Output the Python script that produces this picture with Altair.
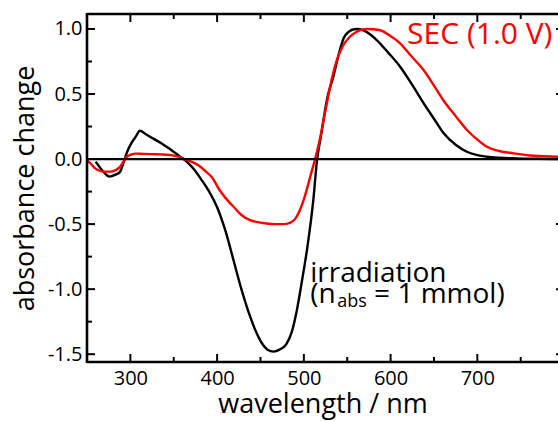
import altair as alt
import pandas as pd

# ---- data ----
irr_wl = [260, 268, 276, 283, 288, 292, 296, 301, 306, 311, 318, 327, 336, 346, 357, 365,
          374, 381, 390, 400, 410, 419, 428, 438, 445, 452, 458, 465, 472, 480, 486, 492,
          498, 504, 511, 515, 520, 527, 534, 540, 546, 552, 558, 563, 570, 577, 584, 597,
          611, 625, 638, 650, 661, 675, 688, 700, 711, 725, 745, 770, 793]
irr_abs = [-0.02, -0.09, -0.135, -0.12, -0.10, -0.03, 0.05, 0.12, 0.17, 0.218, 0.19, 0.155,
           0.12, 0.075, 0.02, -0.02, -0.085, -0.15, -0.24, -0.37, -0.56, -0.78, -1.0, -1.21,
           -1.33, -1.42, -1.465, -1.48, -1.465, -1.42, -1.33, -1.16, -0.93, -0.68, -0.31,
           -0.02, 0.19, 0.47, 0.633, 0.80, 0.93, 0.98, 0.998, 1.0, 0.985, 0.955, 0.915, 0.82,
           0.71, 0.57, 0.43, 0.31, 0.20, 0.11, 0.056, 0.03, 0.018, 0.01, 0.005, 0.002, 0.0]

sec_wl = [250, 255, 259, 265, 271, 277, 283, 288, 292, 296, 301, 306, 315, 325, 335, 345,
          355, 362, 370, 378, 386, 394, 403, 411, 419, 428, 438, 447, 457, 467, 476, 484,
          490, 495, 500, 504, 508, 513, 519, 526, 532, 538, 545, 553, 560, 566, 573, 580,
          588, 599, 611, 624, 638, 650, 661, 675, 688, 700, 711, 725, 742, 765, 793]
sec_abs = [-0.01, -0.04, -0.07, -0.09, -0.097, -0.097, -0.085, -0.06, -0.02, 0.018, 0.035,
           0.042, 0.04, 0.038, 0.036, 0.032, 0.018, 0.0, -0.02, -0.046, -0.09, -0.14, -0.24,
           -0.31, -0.367, -0.43, -0.47, -0.485, -0.495, -0.50, -0.50, -0.49, -0.46, -0.40,
           -0.31, -0.22, -0.12, 0.0, 0.17, 0.41, 0.61, 0.76, 0.87, 0.94, 0.975, 0.993, 1.0,
           0.998, 0.99, 0.95, 0.89, 0.79, 0.685, 0.565, 0.45, 0.33, 0.223, 0.15, 0.095,
           0.062, 0.044, 0.025, 0.018]

series_names = ["irradiation", "SEC"]
series_colors = ["#000000", "#ff0000"]

x_major = [300, 400, 500, 600, 700]
x_minor = [350, 450, 550, 650, 750]
y_major = [-1.5, -1.0, -0.5, 0.0, 0.5, 1.0]
y_minor = [-1.25, -0.75, -0.25, 0.25, 0.75]

X_DOMAIN = [250, 793]
Y_DOMAIN = [-1.56, 1.115]

W, H = 471, 348
FONT = "Open Sans"

df = pd.concat([
    pd.DataFrame({"wl": irr_wl, "abs": irr_abs, "series": series_names[0], "order": 1}),
    pd.DataFrame({"wl": sec_wl, "abs": sec_abs, "series": series_names[1], "order": 0}),
])

xs = alt.Scale(domain=X_DOMAIN, nice=False, zero=False)
ys = alt.Scale(domain=Y_DOMAIN, nice=False, zero=False)

lines = alt.Chart(df).mark_line(strokeWidth=2.4, clip=True, interpolate="monotone").encode(
    x=alt.X("wl:Q", scale=xs, axis=alt.Axis(
        values=x_major, ticks=False, domain=False, grid=False, labelFont=FONT,
        labelFontSize=20, labelPadding=6, labelColor="black",
        title="wavelength / nm", titleFont=FONT, titleFontSize=27,
        titleFontWeight="normal", titleColor="black", titlePadding=3)),
    y=alt.Y("abs:Q", scale=ys, axis=alt.Axis(
        values=y_major, ticks=False, domain=False, grid=False, labelFont=FONT,
        labelFontSize=20, labelPadding=5, labelColor="black",
        labelExpr="replace(format(datum.value, '.1f'), '\u2212', '-')",
        title="absorbance change", titleFont=FONT, titleFontSize=27,
        titleFontWeight="normal", titleColor="black", titlePadding=8)),
    color=alt.Color("series:N", scale=alt.Scale(domain=series_names, range=series_colors),
                    legend=None),
    order=alt.Order("order:Q"),
    detail="series:N",
)

zero = alt.Chart(pd.DataFrame({"y": [0.0]})).mark_rule(color="black", strokeWidth=2.2).encode(
    y=alt.Y("y:Q", scale=ys))

frame_df = pd.DataFrame({"d": [0]})
left_line = alt.Chart(frame_df).mark_rule(color="black", strokeWidth=2.6).encode(
    x=alt.value(0), y=alt.value(-1), y2=alt.value(H + 1))
top_line = alt.Chart(frame_df).mark_rule(color="black", strokeWidth=2.6).encode(
    x=alt.value(0), x2=alt.value(W), y=alt.value(0))
bottom_line = alt.Chart(frame_df).mark_rule(color="black", strokeWidth=2.6).encode(
    x=alt.value(0), x2=alt.value(W), y=alt.value(H))

xmaj = pd.DataFrame({"v": x_major})
xmin = pd.DataFrame({"v": x_minor})
ymaj = pd.DataFrame({"v": y_major})
ymin = pd.DataFrame({"v": y_minor})

def xt(d, y1, y2):
    return alt.Chart(d).mark_rule(color="black", strokeWidth=2).encode(
        x=alt.X("v:Q", scale=xs), y=alt.value(y1), y2=alt.value(y2))

def yt(d, x1, x2):
    return alt.Chart(d).mark_rule(color="black", strokeWidth=2).encode(
        y=alt.Y("v:Q", scale=ys), x=alt.value(x1), x2=alt.value(x2))

ticks = [
    xt(xmaj, H, H - 8), xt(xmin, H, H - 5), xt(xmaj, 0, 8), xt(xmin, 0, 5),
    yt(ymaj, 0, 8), yt(ymin, 0, 5), yt(ymaj, W - 2, W),
]

# annotations (positions in data units)
ann_text = ["SEC (1.0 V)", "irradiation", "(n", "= 1 mmol)"]
ann_wl = [619, 507.3, 507.3, 581]
ann_abs = [0.885, -0.946, -1.108, -1.108]
ann_color = ["#ff0000", "#000000", "#000000", "#000000"]
ann_size = [30, 28, 28, 28]
ann = pd.DataFrame({"t": ann_text, "wl": ann_wl, "abs": ann_abs, "c": ann_color,
                    "s": ann_size})
texts = alt.Chart(ann).mark_text(align="left", baseline="alphabetic", font=FONT).encode(
    x=alt.X("wl:Q", scale=xs), y=alt.Y("abs:Q", scale=ys), text="t:N",
    color=alt.Color("c:N", scale=None), size=alt.Size("s:Q", scale=None))

sub = pd.DataFrame({"t": ["abs"], "wl": [538.5], "abs": [-1.138]})
subtext = alt.Chart(sub).mark_text(align="left", baseline="alphabetic", font=FONT,
                                   fontSize=18, color="black").encode(
    x=alt.X("wl:Q", scale=xs), y=alt.Y("abs:Q", scale=ys), text="t:N")

chart = alt.layer(lines, zero, left_line, top_line, bottom_line, *ticks, texts, subtext).properties(
    width=W, height=H,
    autosize=alt.AutoSizeParams(type="none"),
    padding={"left": 87, "top": 14, "right": 0, "bottom": 59},
    background="white",
).configure_view(stroke=None)

chart.save("out.html", embed_options={"renderer": "svg", "actions": False})
